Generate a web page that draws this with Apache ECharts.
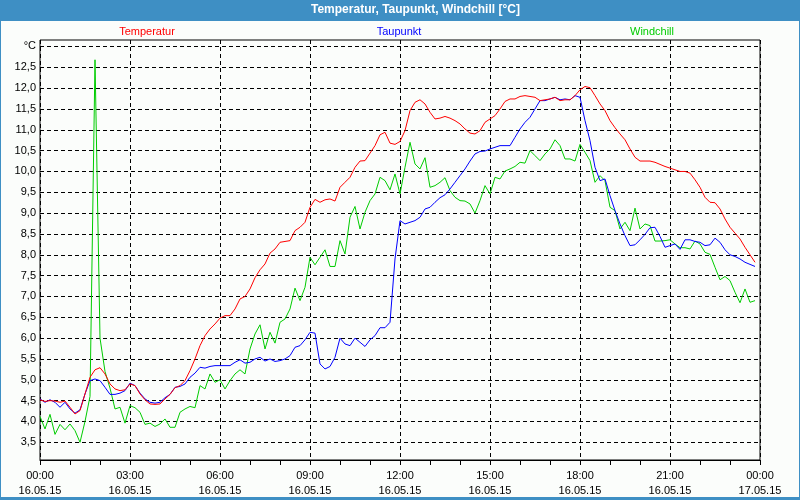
<!DOCTYPE html>
<html><head><meta charset="utf-8">
<script src="https://cdn.jsdelivr.net/npm/echarts@6/dist/echarts.min.js"></script>
<style>html,body{margin:0;padding:0;background:#fff}#c{width:800px;height:500px}</style>
</head><body><div id="c"></div>
<script>
// ---- data (10-minute samples, 16.05.15 00:00 .. 23:50) ----
const startDate = '16.05.15';
const endDate = '17.05.15';
const stepMinutes = 10;
const slotCount = 145; // 00:00 .. 24:00

const temperatur = [
4.52,4.48,4.50,4.49,4.46,4.49,4.34,4.18,4.26,4.66,5.06,5.24,5.29,5.14,4.90,4.78,4.74,4.76,4.90,4.86,
4.66,4.52,4.42,4.41,4.42,4.54,4.65,4.81,4.86,4.98,5.22,5.50,5.82,6.06,6.22,6.34,6.48,6.54,6.54,6.70,
6.94,7.00,7.18,7.45,7.64,7.78,8.04,8.14,8.30,8.32,8.34,8.58,8.66,8.78,9.14,9.33,9.26,9.32,9.34,9.29,
9.62,9.74,9.86,10.10,10.25,10.26,10.44,10.62,10.88,10.94,10.68,10.65,10.72,10.98,11.46,11.66,11.72,11.62,11.42,11.26,
11.28,11.32,11.28,11.22,11.14,11.02,10.92,10.90,10.98,11.18,11.26,11.34,11.50,11.68,11.74,11.74,11.80,11.82,11.80,11.78,
11.70,11.72,11.74,11.78,11.70,11.72,11.72,11.82,11.96,12.04,12.01,11.82,11.62,11.46,11.22,11.05,10.90,10.76,10.54,10.34,
10.25,10.25,10.25,10.22,10.17,10.12,10.08,10.04,10.00,10.00,9.96,9.80,9.62,9.38,9.26,9.25,9.10,8.86,8.66,8.52,
8.38,8.18,8.00,7.82
];
const taupunkt = [
4.54,4.46,4.52,4.46,4.34,4.46,4.30,4.20,4.28,4.66,4.98,5.02,4.98,4.82,4.65,4.65,4.68,4.74,4.92,4.86,
4.68,4.54,4.46,4.44,4.46,4.57,4.65,4.82,4.84,4.90,5.06,5.16,5.30,5.28,5.32,5.34,5.34,5.34,5.34,5.42,
5.48,5.40,5.42,5.50,5.54,5.45,5.50,5.44,5.46,5.50,5.58,5.78,5.82,5.96,6.14,6.12,5.38,5.26,5.32,5.54,
6.00,5.86,5.82,6.00,5.90,5.80,5.96,6.06,6.25,6.25,6.38,7.90,8.82,8.74,8.78,8.82,8.90,9.10,9.14,9.26,
9.37,9.44,9.58,9.74,9.90,10.06,10.25,10.42,10.48,10.49,10.54,10.58,10.62,10.62,10.62,10.82,11.02,11.18,11.30,11.50,
11.70,11.70,11.74,11.78,11.72,11.74,11.72,11.82,11.78,11.22,10.74,10.10,9.78,9.82,9.42,9.06,8.74,8.46,8.22,8.24,
8.36,8.49,8.65,8.66,8.44,8.18,8.22,8.26,8.13,8.36,8.36,8.32,8.30,8.22,8.24,8.40,8.30,8.12,8.00,7.96,
7.90,7.82,7.77,7.72
];
const windchill = [
4.12,3.82,4.17,3.69,3.93,3.80,3.94,3.78,3.50,4.00,4.60,12.68,6.00,5.20,4.80,4.30,4.34,3.96,4.38,4.33,
4.22,3.93,3.96,3.88,3.94,4.06,3.86,3.86,4.22,4.30,4.36,4.33,4.86,4.78,5.14,4.94,5.00,4.78,4.98,5.14,
5.24,5.14,5.74,6.10,6.32,5.74,6.14,5.88,6.38,6.46,6.70,7.20,6.90,7.22,7.94,7.76,7.94,8.12,7.72,7.72,
8.34,8.02,8.90,9.16,8.62,9.02,9.30,9.46,9.86,9.78,9.56,9.94,9.46,10.10,10.70,10.18,10.06,10.33,9.62,9.66,
9.74,9.85,9.54,9.38,9.30,9.29,9.22,9.00,9.30,9.66,9.46,9.86,9.82,10.01,10.06,10.12,10.22,10.20,10.50,10.38,
10.26,10.42,10.54,10.76,10.62,10.30,10.30,10.25,10.65,10.46,10.26,9.74,9.90,9.78,9.14,9.06,8.62,8.78,8.58,9.12,
8.62,8.74,8.70,8.33,8.33,8.34,8.36,8.26,8.17,8.17,8.14,8.33,8.26,8.06,8.01,7.70,7.40,7.48,7.38,7.10,
6.85,7.18,6.86,6.90
];
const yTicks = [3.5,4,4.5,5,5.5,6,6.5,7,7.5,8,8.5,9,9.5,10,10.5,11,11.5,12,12.5,13];
const yUnitLabel = '°C';
const seriesNames = ['Temperatur', 'Taupunkt', 'Windchill'];
const seriesColors = ['#ff0000', '#0000ff', '#00cc00'];

// category labels (time + date)
const categories = [];
for (let i = 0; i < slotCount; i++) {
  const m = i * stepMinutes;
  const hh = String(Math.floor(m / 60) % 24).padStart(2, '0');
  const mm = String(m % 60).padStart(2, '0');
  categories.push(hh + ':' + mm + '\n' + (m >= 1440 ? endDate : startDate));
}

const FONT = '"Liberation Sans", Arial, sans-serif';
const chart = echarts.init(document.getElementById('c'), null, {renderer: 'canvas'});
chart.setOption({
  animation: false,
  backgroundColor: '#3e8fc4',
  graphic: [
    {type: 'rect', z: -10, shape: {x: 1, y: 21, width: 798, height: 476}, style: {fill: '#fbfdfb'}, silent: true},
    {type: 'text', left: 417 - 106, top: 4, style: {text: 'Temperatur, Taupunkt, Windchill [°C]', fill: '#ffffff', font: 'bold 12px ' + FONT}},
    {type: 'text', x: 147, y: 32, style: {text: seriesNames[0], fill: seriesColors[0], font: '11px ' + FONT, align: 'center', verticalAlign: 'middle'}},
    {type: 'text', x: 399, y: 32, style: {text: seriesNames[1], fill: seriesColors[1], font: '11px ' + FONT, align: 'center', verticalAlign: 'middle'}},
    {type: 'text', x: 652, y: 32, style: {text: seriesNames[2], fill: seriesColors[2], font: '11px ' + FONT, align: 'center', verticalAlign: 'middle'}}
  ],
  grid: {left: 40, right: 40, top: 40, bottom: 40, show: true, borderColor: '#000', borderWidth: 1, backgroundColor: 'transparent'},
  xAxis: {
    type: 'category', data: categories, boundaryGap: false,
    axisLine: {show: true, lineStyle: {color: '#000', width: 1}},
    axisTick: {show: true, interval: 5, length: 5, lineStyle: {color: '#000'}},
    axisLabel: {interval: 17, color: '#000', fontFamily: FONT, fontSize: 11, lineHeight: 15, margin: 8},
    splitLine: {show: true, interval: 17, lineStyle: {color: '#000', type: [4, 3], width: 1}}
  },
  yAxis: {
    type: 'value', min: 3.075, max: 13.155,
    axisLine: {show: false},
    axisTick: {show: false, customValues: yTicks},
    axisLabel: {customValues: yTicks, color: '#000', fontFamily: FONT, fontSize: 11, margin: 4,
      formatter: v => (Math.abs(v - 13) < 1e-9 ? yUnitLabel : v.toFixed(1).replace('.', ','))},
    splitLine: {show: true, lineStyle: {color: '#000', type: [4, 3], width: 1}}
  },
  series: [
    {name: seriesNames[2], type: 'line', data: windchill, showSymbol: false, symbol: 'none', lineStyle: {color: seriesColors[2], width: 1}, z: 3},
    {name: seriesNames[1], type: 'line', data: taupunkt, showSymbol: false, symbol: 'none', lineStyle: {color: seriesColors[1], width: 1}, z: 4},
    {name: seriesNames[0], type: 'line', data: temperatur, showSymbol: false, symbol: 'none', lineStyle: {color: seriesColors[0], width: 1}, z: 5}
  ]
});
</script>
</body></html>
